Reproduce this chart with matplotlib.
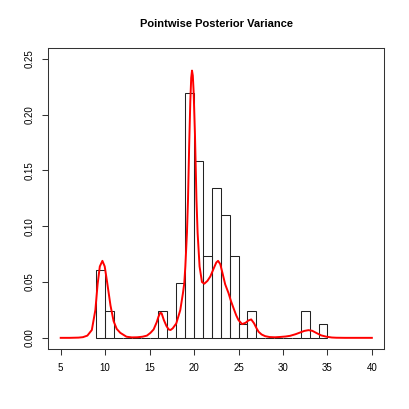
import matplotlib
matplotlib.use("Agg")
import matplotlib.pyplot as plt

plt.rcParams['font.family'] = ['Liberation Sans', 'DejaVu Sans']

# histogram: unit-width bins starting at 9, counts out of 82
bin_left = list(range(9, 35))
counts = [5, 2, 0, 0, 0, 0, 0, 2, 0, 4, 18, 13, 6, 11, 9, 6, 1, 2, 0, 0, 0, 0, 0, 2, 0, 1]
n_total = sum(counts)
heights = [c / n_total for c in counts]

# density curve
curve_x = [5.0, 6.0, 7.0, 7.5, 8.0, 8.5, 8.9, 9.15, 9.4, 9.69, 9.95, 10.2, 10.6,
           10.95, 11.3, 11.7, 12.4, 13.0, 13.6, 14.2, 14.7, 15.1, 15.45, 15.8,
           16.0, 16.2, 16.35, 16.6, 16.9, 17.15, 17.35, 17.6, 18.0, 18.45, 18.75,
           18.9, 19.02, 19.2, 19.32, 19.45, 19.58, 19.68, 19.77, 19.86, 19.95,
           20.1, 20.27, 20.4, 20.62, 20.89, 21.15, 21.5, 21.83, 22.2, 22.5, 22.7,
           22.95, 23.2, 23.5, 23.88, 24.15, 24.45, 24.75, 25.0, 25.4, 25.8, 26.1,
           26.43, 26.75, 27.0, 27.26, 27.6, 28.0, 28.5, 29.1, 29.7, 30.3, 30.8,
           31.4, 31.94, 32.4, 32.88, 33.3, 33.8, 34.3, 34.9, 35.5, 36.0, 37.0, 40.0]
curve_y = [0.0, 0.0, 0.0002, 0.0006, 0.002, 0.007, 0.025, 0.048, 0.064, 0.069, 0.064,
           0.051, 0.029, 0.015, 0.008, 0.0045, 0.001, 0.0004, 0.0005, 0.001, 0.002,
           0.0045, 0.0075, 0.014, 0.019, 0.0225, 0.022, 0.016, 0.0105, 0.0075, 0.007,
           0.0085, 0.0129, 0.0249, 0.040, 0.049, 0.064, 0.094, 0.124, 0.172, 0.212,
           0.233, 0.2395, 0.235, 0.221, 0.183, 0.124, 0.094, 0.064, 0.050, 0.0485,
           0.051, 0.055, 0.062, 0.0675, 0.069, 0.066, 0.058, 0.048, 0.040, 0.033,
           0.0264, 0.020, 0.0159, 0.0123, 0.0135, 0.0155, 0.0165, 0.013, 0.009,
           0.0054, 0.003, 0.0015, 0.0007, 0.0005, 0.0008, 0.0012, 0.0018, 0.0032,
           0.0048, 0.0062, 0.0069, 0.0063, 0.0042, 0.0022, 0.001, 0.0003, 0.0001,
           0.0, 0.0]

x_ticks = [5, 10, 15, 20, 25, 30, 35, 40]
y_ticks = [0.0, 0.05, 0.10, 0.15, 0.20, 0.25]

fig = plt.figure(figsize=(4.09, 4.09), dpi=100)
ax = fig.add_axes([0.118, 0.1467, 0.8216, 0.7367])

ax.bar(bin_left, heights, width=1, align='edge', fill=False,
       edgecolor='#222222', linewidth=0.75)
ax.plot(curve_x, curve_y, color='#ff0000', linewidth=1.4)

ax.set_xlim(3.6, 41.4)
ax.set_ylim(-0.01, 0.26)
ax.set_xticks(x_ticks)
ax.set_xticklabels([str(t) for t in x_ticks])
ax.set_yticks(y_ticks)
ax.set_yticklabels(['%.2f' % t for t in y_ticks], rotation=90, va='center')

for sp in ax.spines.values():
    sp.set_linewidth(0.75)
    sp.set_color('#333333')
ax.tick_params(axis='both', length=4.3, width=0.75, color='#333333', labelsize=7)
ax.tick_params(axis='x', pad=5.8)
ax.tick_params(axis='y', pad=5.2)

fig.text(0.529, 1 - 24 / 409, 'Pointwise Posterior Variance', ha='center', va='center',
         fontsize=8, fontweight='bold')

fig.savefig('out.png', dpi=100)
